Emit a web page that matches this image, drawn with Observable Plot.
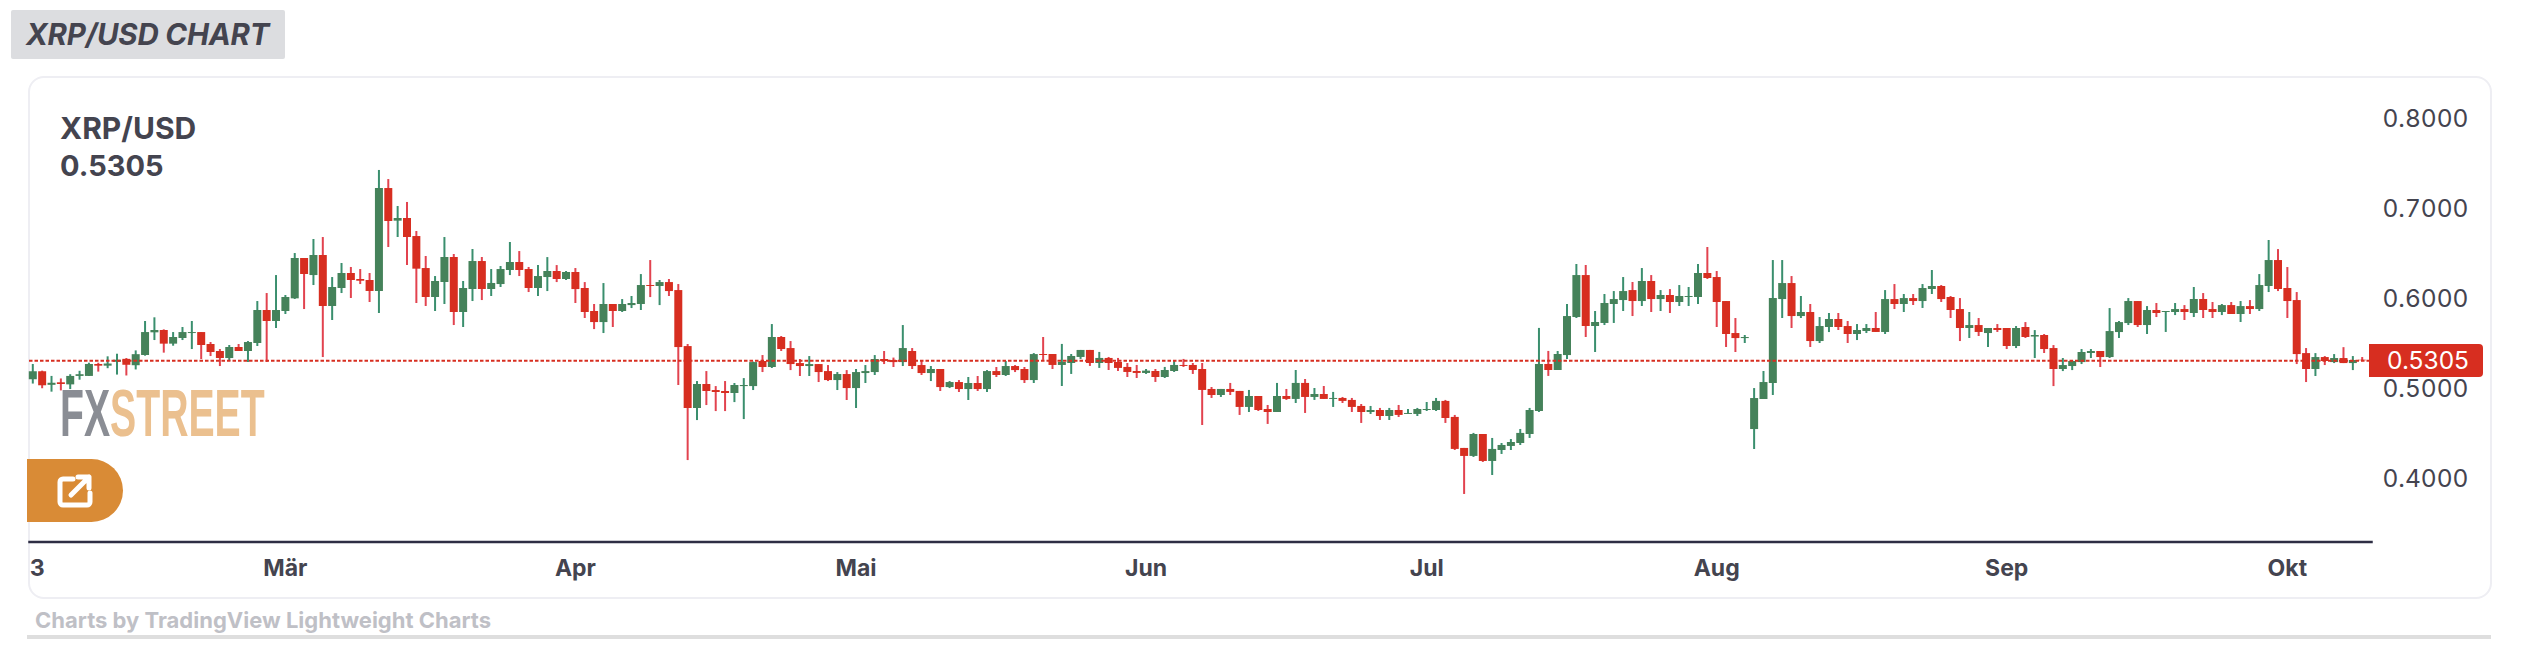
<!DOCTYPE html>
<html lang="de">
<head>
<meta charset="utf-8">
<script src="https://cdn.jsdelivr.net/npm/d3@7"></script>
<script src="https://cdn.jsdelivr.net/npm/@observablehq/plot@0.6"></script>
<style>
html,body{margin:0;padding:0;background:#fff;width:2521px;height:667px;overflow:hidden;font-family:Inter,"Liberation Sans",sans-serif;color:#44444f}
.a{position:absolute}
#tag{left:11px;top:10px;width:274px;height:49px;background:#dcdde0;border-radius:2px}
#tagt{left:26px;top:14px;font:italic 700 29.5px/40px Inter;letter-spacing:-.2px;white-space:nowrap}
#card{left:28px;top:76px;width:2460px;height:519px;border:2.5px solid #eeeef3;border-radius:16px}
#pair{left:60px;top:109px;font:700 30px/38px Inter;white-space:nowrap}
#val{left:60px;top:147px;font:700 29px/38px Inter;white-space:nowrap}
#logo{left:60px;top:378px;font:700 67px/70px "Liberation Sans Narrow","Liberation Sans";transform-origin:0 0;transform:scaleX(.585);white-space:nowrap;color:#ebc08f}
#logo b{color:#8a8d94;font-weight:700}
#btn{left:27px;top:459px;width:96px;height:63px;background:#d98b36;border-radius:0 32px 32px 0}
#lab{left:2369px;top:344px;width:114px;height:33px;background:#d72e20;border-radius:0 4px 4px 0;color:#fff;font:400 24.5px/33px Inter;text-align:right;box-sizing:border-box;padding-right:14px}
#tv{left:35px;top:606px;font:700 22px/28px Inter;color:#bfc0c6;white-space:nowrap}
#bar{left:27px;top:635px;width:2464px;height:4px;background:#dedede}
#plot{left:0;top:0}
</style>
</head>
<body>
<div class="a" id="tag"></div><div class="a" id="tagt">XRP/USD CHART</div>
<div class="a" id="card"></div>
<div class="a" id="pair">XRP/USD</div><div class="a" id="val">0.5305</div>
<div class="a" id="logo"><b>FX</b>STREET</div>
<div class="a" id="btn"><svg width="96" height="63" viewBox="0 0 96 63" fill="none" stroke="#fff" stroke-width="5" stroke-linecap="round" stroke-linejoin="round"><path d="M46 20H36a3 3 0 0 0-3 3v20a3 3 0 0 0 3 3h24a3 3 0 0 0 3-3v-9"/><path d="M44 36l18-18M51 18h11v11"/></svg></div>
<div class="a" id="plot"></div>
<div class="a" id="lab">0.5305</div>
<div class="a" id="tv">Charts by TradingView Lightweight Charts</div>
<div class="a" id="bar"></div>
<script>
const open = [
.5094,.5183,.5032,.5060,.5037,.5131,.5131,.5264,.5245,.5288,
.5321,.5250,.5364,.5616,.5642,.5490,.5553,.5608,.5619,.5486,
.5408,.5330,.5453,.5408,.5497,.5864,.5742,.5853,.5994,.6443,
.6253,.6476,.5909,.6109,.6276,.6209,.6198,.6076,.7221,.6858,
.6888,.6687,.6331,.6009,.6176,.6454,.5842,.6098,.6409,.6098,
.6153,.6309,.6398,.6320,.6109,.6231,.6298,.6209,.6287,.6109,
.5853,.5730,.5931,.5853,.5919,.5931,.6142,.6131,.6175,.6086,
.5463,.4774,.5041,.4974,.4963,.4941,.5018,.5018,.5297,.5230,
.5564,.5441,.5274,.5241,.5263,.5185,.5085,.5152,.4996,.5163,
.5174,.5319,.5308,.5285,.5408,.5252,.5163,.5208,.5007,.5063,
.4985,.5052,.4985,.5185,.5141,.5241,.5208,.5085,.5375,.5375,
.5253,.5275,.5342,.5420,.5275,.5331,.5286,.5231,.5186,.5164,
.5186,.5119,.5186,.5253,.5253,.5208,.4986,.4919,.4986,.4964,
.4786,.4908,.4763,.4730,.4908,.4875,.5053,.4897,.4930,.4875,
.4886,.4864,.4797,.4730,.4752,.4685,.4752,.4708,.4708,.4752,
.4752,.4853,.4675,.4330,.4241,.4485,.4185,.4307,.4352,.4385,
.4485,.4741,.5264,.5197,.5363,.5786,.6253,.5686,.5720,.5931,
.5975,.6086,.5964,.6187,.5986,.6031,.5953,.6009,.6009,.6276,
.6231,.5964,.5608,.5552,.4540,.4874,.5052,.5986,.6164,.5797,
.5842,.5519,.5675,.5764,.5686,.5597,.5631,.5664,.5620,.5986,
.5931,.5997,.5964,.6098,.6131,.6009,.5875,.5664,.5697,.5608,
.5664,.5664,.5464,.5675,.5569,.5586,.5441,.5208,.5241,.5285,
.5386,.5408,.5341,.5619,.5719,.5964,.5697,.5864,.5842,.5842,
.5875,.5831,.5987,.5875,.5842,.5919,.5820,.5908,.5875,.6131,
.6420,.6109,.5975,.5385,.5208,.5341,.5285,.5330,.5274,.5311];
const close = [
.5183,.5027,.5055,.5041,.5131,.5150,.5264,.5245,.5269,.5311,
.5255,.5373,.5619,.5642,.5490,.5564,.5619,.5619,.5475,.5397,
.5330,.5453,.5408,.5508,.5864,.5742,.5864,.6009,.6443,.6265,
.6476,.5909,.6120,.6276,.6198,.6190,.6076,.7221,.6854,.6888,
.6676,.6324,.6009,.6187,.6454,.5842,.6109,.6409,.6098,.6165,
.6320,.6398,.6309,.6109,.6242,.6298,.6209,.6287,.6097,.5842,
.5730,.5931,.5853,.5931,.5942,.6142,.6131,.6175,.6075,.5452,
.4774,.5041,.4963,.4952,.4941,.5030,.5030,.5285,.5230,.5564,
.5430,.5263,.5241,.5263,.5174,.5085,.5152,.4996,.5174,.5185,
.5319,.5297,.5285,.5441,.5241,.5163,.5208,.5007,.5063,.4985,
.5052,.4985,.5185,.5141,.5241,.5196,.5085,.5374,.5364,.5253,
.5286,.5353,.5420,.5275,.5331,.5275,.5220,.5175,.5164,.5190,
.5119,.5197,.5253,.5242,.5197,.4975,.4919,.4986,.4953,.4786,
.4908,.4752,.4730,.4908,.4875,.5053,.4897,.4930,.4875,.4886,
.4853,.4786,.4730,.4752,.4685,.4752,.4697,.4719,.4763,.4763,
.4853,.4663,.4319,.4241,.4485,.4185,.4319,.4363,.4396,.4497,
.4752,.5264,.5197,.5375,.5797,.6253,.5686,.5731,.5942,.5986,
.6075,.5964,.6187,.5986,.6031,.5953,.6020,.6020,.6276,.6220,
.5953,.5597,.5552,.5564,.4885,.5063,.5998,.6164,.5797,.5842,
.5519,.5686,.5764,.5675,.5597,.5642,.5664,.5620,.5986,.5931,
.5997,.5964,.6109,.6131,.5986,.5864,.5664,.5697,.5620,.5664,
.5642,.5464,.5664,.5564,.5586,.5430,.5208,.5252,.5297,.5397,
.5408,.5341,.5630,.5730,.5964,.5697,.5864,.5831,.5853,.5875,
.5842,.5987,.5864,.5842,.5919,.5820,.5908,.5875,.6142,.6420,
.6098,.5964,.5374,.5208,.5341,.5297,.5330,.5274,.5308,.5305];
const high = [
.5264,.5190,.5131,.5103,.5150,.5188,.5278,.5278,.5349,.5378,
.5330,.5415,.5742,.5783,.5649,.5619,.5675,.5742,.5619,.5508,
.5430,.5475,.5486,.5519,.5964,.6053,.6253,.6031,.6498,.6443,
.6654,.6676,.6231,.6387,.6343,.6320,.6276,.7422,.7321,.7021,
.7066,.6743,.6465,.6242,.6676,.6487,.6187,.6543,.6454,.6320,
.6354,.6621,.6520,.6343,.6365,.6453,.6364,.6298,.6331,.6175,
.5931,.6164,.5931,.5986,.6020,.6264,.6420,.6198,.6209,.6153,
.5486,.5074,.5185,.5018,.5074,.5052,.5107,.5290,.5363,.5708,
.5575,.5519,.5319,.5352,.5263,.5252,.5174,.5196,.5208,.5252,
.5363,.5408,.5335,.5697,.5441,.5308,.5241,.5208,.5074,.5085,
.5119,.5130,.5196,.5230,.5297,.5252,.5230,.5385,.5564,.5375,
.5487,.5375,.5420,.5420,.5398,.5342,.5331,.5275,.5253,.5208,
.5208,.5231,.5297,.5320,.5275,.5275,.5008,.4986,.5053,.4964,
.4975,.4908,.4808,.5053,.4986,.5197,.5097,.4997,.5019,.4953,
.4897,.4886,.4819,.4797,.4775,.4775,.4808,.4763,.4775,.4841,
.4886,.4864,.4697,.4330,.4497,.4485,.4441,.4385,.4429,.4541,
.4775,.5665,.5409,.5408,.5931,.6376,.6365,.5853,.6042,.6075,
.6231,.6176,.6331,.6253,.6086,.6097,.6142,.6120,.6376,.6565,
.6298,.5964,.5775,.5586,.4996,.5186,.6420,.6420,.6242,.6020,
.5931,.5786,.5831,.5831,.5742,.5708,.5708,.5842,.6086,.6153,
.6042,.6042,.6153,.6309,.6142,.6020,.5997,.5842,.5775,.5664,
.5708,.5664,.5686,.5730,.5641,.5597,.5474,.5330,.5308,.5430,
.5430,.5408,.5886,.5742,.5997,.5964,.5908,.5942,.5853,.5942,
.5919,.6120,.6053,.5953,.5931,.5953,.5964,.5975,.6264,.6643,
.6542,.6342,.6064,.5441,.5385,.5352,.5374,.5451,.5352,.5341];
const low = [
.5046,.4994,.4956,.4970,.4985,.5089,.5131,.5179,.5217,.5146,
.5136,.5203,.5356,.5530,.5390,.5467,.5530,.5430,.5319,.5352,
.5241,.5297,.5408,.5286,.5464,.5286,.5664,.5820,.5987,.5875,
.6142,.5341,.5753,.6053,.5998,.6153,.5953,.5831,.6565,.6676,
.6365,.5942,.5909,.5853,.5931,.5697,.5675,.5964,.5975,.6020,
.6120,.6253,.6242,.6064,.6020,.6075,.6175,.6198,.5942,.5775,
.5652,.5608,.5675,.5842,.5886,.5864,.6008,.5919,.6020,.5030,
.4195,.4640,.4807,.4740,.4740,.4840,.4651,.4974,.5174,.5219,
.5408,.5196,.5130,.5130,.5063,.5074,.4974,.4863,.4774,.5052,
.5141,.5263,.5230,.5241,.5208,.5141,.5074,.4963,.4996,.4952,
.4863,.4963,.4952,.5119,.5130,.5174,.5052,.5052,.5309,.5208,
.5019,.5153,.5320,.5242,.5220,.5197,.5186,.5119,.5108,.5153,
.5064,.5108,.5175,.5231,.5153,.4585,.4886,.4897,.4919,.4697,
.4730,.4741,.4597,.4730,.4864,.4830,.4719,.4864,.4875,.4786,
.4830,.4730,.4608,.4708,.4641,.4641,.4674,.4708,.4685,.4741,
.4741,.4608,.4307,.3818,.4230,.4174,.4029,.4263,.4307,.4363,
.4441,.4730,.5131,.5197,.5319,.5775,.5564,.5397,.5697,.5720,
.5853,.5797,.5909,.5842,.5853,.5831,.5909,.5909,.5931,.6209,
.5675,.5453,.5397,.5497,.4318,.4874,.4919,.5775,.5664,.5775,
.5453,.5497,.5619,.5642,.5497,.5530,.5608,.5620,.5597,.5875,
.5842,.5920,.5887,.6042,.5953,.5775,.5519,.5553,.5575,.5453,
.5620,.5430,.5441,.5553,.5330,.5386,.5018,.5185,.5196,.5263,
.5330,.5230,.5330,.5553,.5697,.5675,.5597,.5786,.5620,.5808,
.5753,.5786,.5775,.5775,.5808,.5820,.5731,.5820,.5853,.6064,
.6075,.5775,.5263,.5063,.5130,.5252,.5274,.5274,.5196,.5295];
const lastPrice = 0.5305;
const priceTicks = [0.4,0.5,0.6,0.7,0.8];
const monthDates = ["2023-02-02T12:00:00Z","2023-03-01T00:00:00Z","2023-04-01T00:00:00Z","2023-05-01T00:00:00Z","2023-06-01T00:00:00Z","2023-07-01T00:00:00Z","2023-08-01T00:00:00Z","2023-09-01T00:00:00Z","2023-10-01T00:00:00Z"];
const monthLabels = ["3","Mär","Apr","Mai","Jun","Jul","Aug","Sep","Okt"];

const start = new Date(Date.UTC(2023,1,2));
const candles = open.map((o,i)=>({date:d3.utcDay.offset(start,i),open:o,close:close[i],high:high[i],low:low[i]}));
const tickDates = monthDates.map(d=>new Date(d));
const up = "#45825a", upWick="#3a8f6e", down = "#d72e20", downWick="#e2434f", ink="#44444f";
const col = d=>d.close>=d.open?up:down;
const colW = d=>d.close>=d.open?upWick:downWick;

const chart = Plot.plot({
  width:2521, height:667,
  marginLeft:29, marginRight:150, marginTop:80, marginBottom:125.5,
  style:{background:"transparent",overflow:"visible"},
  x:{type:"utc",domain:[candles[0].date,candles[249].date],range:[32.3,2361.7]},
  y:{domain:[0.4,0.8],range:[477.6,118]},
  marks:[
    Plot.frame({anchor:"bottom",stroke:"#2e2e44",strokeWidth:2.5,strokeOpacity:1}),
    Plot.axisY({anchor:"right",ticks:priceTicks,tickFormat:d3.format(".4f"),tickSize:0,tickPadding:97,textAnchor:"end",dy:1,
      fontSize:24.5,fontFamily:"Inter",fill:ink,label:null}),
    Plot.axisX({anchor:"bottom",ticks:tickDates,tickFormat:d=>monthLabels[tickDates.findIndex(t=>+t===+d)],tickSize:0,tickPadding:18,
      fontSize:23,fontWeight:700,fontFamily:"Inter",fill:ink,label:null}),
    Plot.ruleX(candles,{x:"date",y1:"low",y2:"high",stroke:colW,strokeWidth:2}),
    Plot.ruleX(candles,{x:"date",y1:"open",y2:"close",stroke:col,strokeWidth:8}),
    Plot.ruleY([lastPrice],{stroke:down,strokeWidth:2,strokeDasharray:"3.5 2"})
  ]
});
document.getElementById("plot").appendChild(chart);
</script>
</body>
</html>
